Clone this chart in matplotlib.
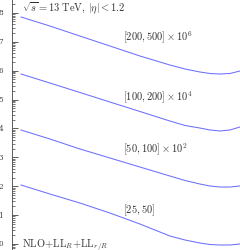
import numpy as np
import matplotlib
matplotlib.use("Agg")
import matplotlib.pyplot as plt

plt.rcParams['mathtext.fontset'] = 'cm'
plt.rcParams['font.family'] = ['DejaVu Serif']

# data (arbitrary horizontal units)
x = [0.0375, 0.158, 0.283, 0.408, 0.533, 0.658, 0.721, 0.783, 0.825, 0.867, 0.908, 0.95]
y_200_500 = [71.6, 34.9, 15.7, 7.10, 3.20, 1.56, 1.135, 0.895, 0.794, 0.762, 0.794, 0.968]
y_100_200 = [76.2, 37.2, 17.5, 8.18, 3.85, 1.80, 1.26, 1.03, 0.881, 0.813, 0.881, 1.12]
y_50_100 = [88.1, 43.0, 19.4, 9.46, 4.61, 2.25, 1.575, 1.19, 1.016, 0.937, 0.937, 1.02]
y_25_50 = [110, 53.7, 26.2, 11.8, 4.92, 1.89, 1.375, 1.08, 0.961, 0.923, 0.923, 1.0]
series = [y_200_500, y_100_200, y_50_100, y_25_50]
factors = [1e6, 1e4, 1e2, 1]
labels = [r'$[200, 500] \times 10^6$', r'$[100, 200] \times 10^4$',
          r'$[50, 100] \times 10^2$', r'$[25, 50]$']

W, H = 240, 251
fig = plt.figure(figsize=(W/100, H/100), dpi=100)
# axes extends beyond figure (cropped view)
ext = 12.55
ax = fig.add_axes([12/W, -ext/H, 1.0, (H + 2*ext)/H])
dec = 28.9
y0px = 245  # pixel (from top) of 10^0
lo = (y0px - (H + ext)) / dec
hi = (y0px + ext) / dec
ax.set_yscale('log')
ax.set_ylim(10**lo, 10**hi)
ax.set_xlim(0, 1.0)

col = '#6e6eff'
for s, f in zip(series, factors):
    ax.plot(x, np.array(s) * f, color=col, lw=0.75)

gray = '#444444'
ax.tick_params(axis='y', which='both', direction='in', colors=gray, labelsize=7.5, pad=5.5)
ax.tick_params(axis='y', which='major', length=4, width=0.6)
ax.tick_params(axis='y', which='minor', length=2, width=0.5)
ax.yaxis.set_major_locator(matplotlib.ticker.LogLocator(base=10, numticks=20))
ax.yaxis.set_minor_locator(matplotlib.ticker.LogLocator(base=10, subs=np.arange(2, 10), numticks=20))
ax.set_xticks([])
for sp in ax.spines.values():
    sp.set_color(gray)
    sp.set_linewidth(0.6)

tc = '#333333'
fs = 7.5
fig.text(22/W, 1 - 8/H, r'$\sqrt{s}=13\ \mathrm{TeV},\,|\eta|<1.2$', color=tc, fontsize=fs, va='center', ha='left')
for lab, ypx in zip(labels, [38, 98, 150, 210]):
    fig.text(123/W, 1 - ypx/H, lab, color=tc, fontsize=fs, va='center', ha='left')
fig.text(22/W, 1 - 245/H, r'$\mathrm{NLO{+}LL}_R\mathrm{{+}LL}_{r/R}$', color=tc, fontsize=fs, va='center', ha='left')

fig.savefig('out.png', dpi=100)
